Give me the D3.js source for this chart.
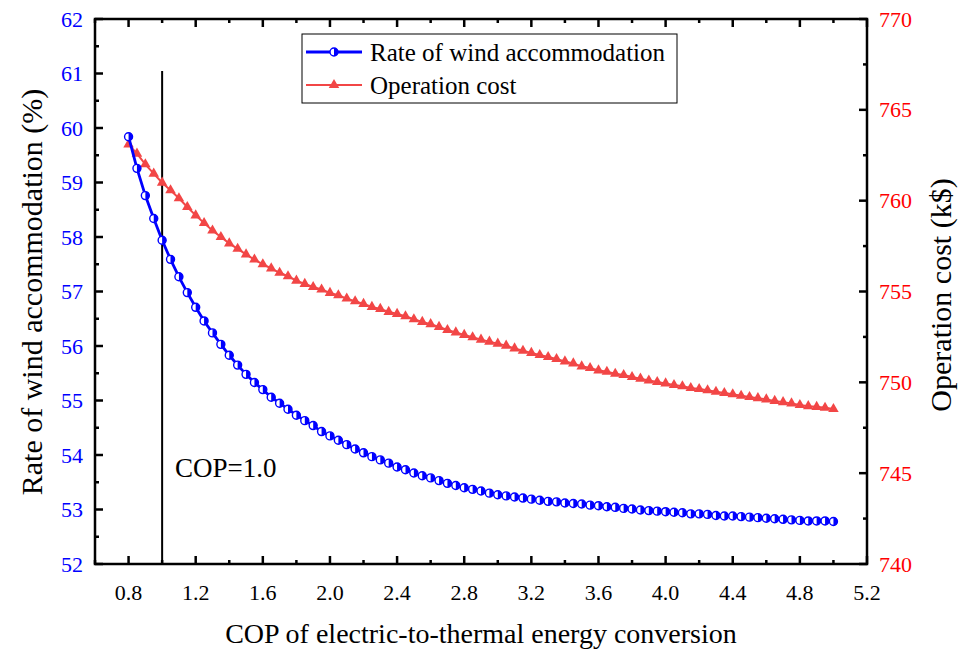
<!DOCTYPE html>
<html><head><meta charset="utf-8">
<script src="https://cdn.jsdelivr.net/npm/d3@7"></script>
<style>body{margin:0;background:#fff}svg{display:block}</style>
</head><body><svg id="c" width="960" height="650" font-family="'Liberation Serif', 'Times New Roman', serif"></svg>
<script>
const cop = [0.80,0.85,0.90,0.95,1.00,1.05,1.10,1.15,1.20,1.25,1.30,1.35,1.40,1.45,1.50,1.55,1.60,1.65,1.70,1.75,1.80,1.85,1.90,1.95,2.00,2.05,2.10,2.15,2.20,2.25,2.30,2.35,2.40,2.45,2.50,2.55,2.60,2.65,2.70,2.75,2.80,2.85,2.90,2.95,3.00,3.05,3.10,3.15,3.20,3.25,3.30,3.35,3.40,3.45,3.50,3.55,3.60,3.65,3.70,3.75,3.80,3.85,3.90,3.95,4.00,4.05,4.10,4.15,4.20,4.25,4.30,4.35,4.40,4.45,4.50,4.55,4.60,4.65,4.70,4.75,4.80,4.85,4.90,4.95,5.00];
const windRate = [59.84,59.26,58.76,58.34,57.94,57.59,57.27,56.98,56.71,56.46,56.24,56.03,55.83,55.65,55.48,55.33,55.20,55.06,54.95,54.84,54.73,54.63,54.54,54.43,54.35,54.27,54.19,54.11,54.04,53.97,53.91,53.85,53.78,53.73,53.67,53.62,53.58,53.53,53.48,53.44,53.40,53.37,53.34,53.30,53.27,53.25,53.23,53.21,53.19,53.17,53.15,53.14,53.12,53.11,53.10,53.08,53.07,53.05,53.04,53.02,53.01,52.99,52.98,52.97,52.96,52.95,52.94,52.92,52.92,52.91,52.89,52.88,52.88,52.87,52.86,52.85,52.84,52.83,52.82,52.81,52.80,52.79,52.79,52.79,52.78];
const opCost = [763.1,762.59,762.0,761.49,760.99,760.57,760.13,759.65,759.19,758.77,758.36,758.0,757.65,757.35,757.04,756.76,756.5,756.27,756.03,755.84,755.6,755.42,755.25,755.11,754.92,754.79,754.61,754.46,754.32,754.15,754.04,753.88,753.77,753.64,753.47,753.33,753.2,753.05,752.88,752.75,752.61,752.48,752.35,752.24,752.13,752.02,751.87,751.74,751.62,751.5,751.39,751.28,751.15,751.04,750.88,750.79,750.66,750.58,750.47,750.4,750.29,750.2,750.1,750.02,749.94,749.85,749.78,749.69,749.63,749.56,749.48,749.41,749.34,749.26,749.19,749.13,749.06,748.98,748.91,748.84,748.75,748.69,748.65,748.6,748.53];
const xTicks = [0.8,1.2,1.6,2.0,2.4,2.8,3.2,3.6,4.0,4.4,4.8,5.2];
const xMinor = [0.6,1.0,1.4,1.8,2.2,2.6,3.0,3.4,3.8,4.2,4.6,5.0];
const leftTicks = [52,53,54,55,56,57,58,59,60,61,62];
const rightTicks = [740,745,750,755,760,765,770];
const seriesNames = ["Rate of wind accommodation","Operation cost"];
const copMark = 1.0;

const FONT="'Liberation Serif', 'Times New Roman', serif";
const L=95,R=867,T=19,B=564;
const svg=d3.select("#c");
const x=d3.scaleLinear().domain([0.6,5.2]).range([L,R]);
const yL=d3.scaleLinear().domain([52,62]).range([B,T]);
const yR=d3.scaleLinear().domain([740,770]).range([B,T]);
const BLUE="#0000ff", RED="#f24646";

// ticks
const tk=svg.append("g").attr("stroke","#000").attr("stroke-width",2.5);
function vt(v,l){
  tk.append("line").attr("x1",x(v)).attr("x2",x(v)).attr("y1",B).attr("y2",B-l);
  tk.append("line").attr("x1",x(v)).attr("x2",x(v)).attr("y1",T).attr("y2",T+l);
}
xTicks.forEach(v=>vt(v,8));
xMinor.forEach(v=>vt(v,4));
leftTicks.forEach(v=>tk.append("line").attr("x1",L).attr("x2",L+8).attr("y1",yL(v)).attr("y2",yL(v)));
leftTicks.slice(0,-1).forEach(v=>tk.append("line").attr("x1",L).attr("x2",L+4).attr("y1",yL(v+0.5)).attr("y2",yL(v+0.5)));
rightTicks.forEach(v=>tk.append("line").attr("x1",R).attr("x2",R-8).attr("y1",yR(v)).attr("y2",yR(v)));
rightTicks.slice(0,-1).forEach(v=>tk.append("line").attr("x1",R).attr("x2",R-4).attr("y1",yR(v+2.5)).attr("y2",yR(v+2.5)));

// frame
svg.append("rect").attr("x",L).attr("y",T).attr("width",R-L).attr("height",B-T).attr("fill","none").attr("stroke","#000").attr("stroke-width",2.5);

const txt=(g)=>g.append("text").attr("font-family",FONT);
// tick labels
xTicks.forEach(d=>txt(svg).attr("x",x(d)).attr("y",600).attr("text-anchor","middle").attr("font-size",22).attr("fill","#000").text(d.toFixed(1)));
leftTicks.forEach(d=>txt(svg).attr("x",83).attr("y",yL(d)+7.5).attr("text-anchor","end").attr("font-size",22).attr("fill",BLUE).text(d));
rightTicks.forEach(d=>txt(svg).attr("x",879).attr("y",yR(d)+7.5).attr("text-anchor","start").attr("font-size",22).attr("fill","#ff0000").text(d));

// axis titles
txt(svg).attr("x",481).attr("y",643).attr("text-anchor","middle").attr("font-size",28).text("COP of electric-to-thermal energy conversion");
txt(svg).attr("transform","translate(42,292) rotate(-90)").attr("text-anchor","middle").attr("font-size",30).text("Rate of wind accommodation (%)");
txt(svg).attr("transform","translate(951,295) rotate(-90)").attr("text-anchor","middle").attr("font-size",30).text("Operation cost (k$)");

// COP=1.0 marker line
svg.append("line").attr("x1",x(copMark)).attr("x2",x(copMark)).attr("y1",71).attr("y2",B).attr("stroke","#000").attr("stroke-width",2);
txt(svg).attr("x",175).attr("y",477).attr("font-size",27).text("COP="+copMark.toFixed(1));

// series
const red=cop.map((c,i)=>[c,opCost[i]]);
const blue=cop.map((c,i)=>[c,windRate[i]]);
svg.append("path").datum(red).attr("fill","none").attr("stroke",RED).attr("stroke-width",2)
  .attr("d",d3.line().x(d=>x(d[0])).y(d=>yR(d[1])));
const tri=d3.symbol().type(d3.symbolTriangle).size(48);
svg.append("g").selectAll("path").data(red).join("path").attr("transform",d=>`translate(${x(d[0])},${yR(d[1])})`)
  .attr("d",tri).attr("fill",RED);
svg.append("path").datum(blue).attr("fill","none").attr("stroke",BLUE).attr("stroke-width",2.8)
  .attr("d",d3.line().x(d=>x(d[0])).y(d=>yL(d[1])));
const RR=4;
function halfCircle(g){
  g.append("circle").attr("r",RR).attr("fill","#fff").attr("stroke",BLUE).attr("stroke-width",1.4);
  g.append("path").attr("d",`M0,-${RR} A${RR},${RR} 0 0,1 0,${RR} Z`).attr("fill",BLUE);
}
svg.append("g").selectAll("g").data(blue).join("g").attr("transform",d=>`translate(${x(d[0])},${yL(d[1])})`).each(function(){halfCircle(d3.select(this));});

// legend
const lg=svg.append("g");
lg.append("rect").attr("x",302).attr("y",34).attr("width",375).attr("height",69).attr("fill","#fff").attr("stroke","#000").attr("stroke-width",1);
lg.append("line").attr("x1",306).attr("x2",362).attr("y1",52).attr("y2",52).attr("stroke",BLUE).attr("stroke-width",2.8);
halfCircle(lg.append("g").attr("transform","translate(334,52)"));
lg.append("line").attr("x1",306).attr("x2",362).attr("y1",85).attr("y2",85).attr("stroke",RED).attr("stroke-width",2);
lg.append("path").attr("transform","translate(334,85)").attr("d",tri).attr("fill",RED);
txt(lg).attr("x",370).attr("y",61).attr("font-size",25).text(seriesNames[0]);
txt(lg).attr("x",370).attr("y",94).attr("font-size",25).text(seriesNames[1]);
</script></body></html>
